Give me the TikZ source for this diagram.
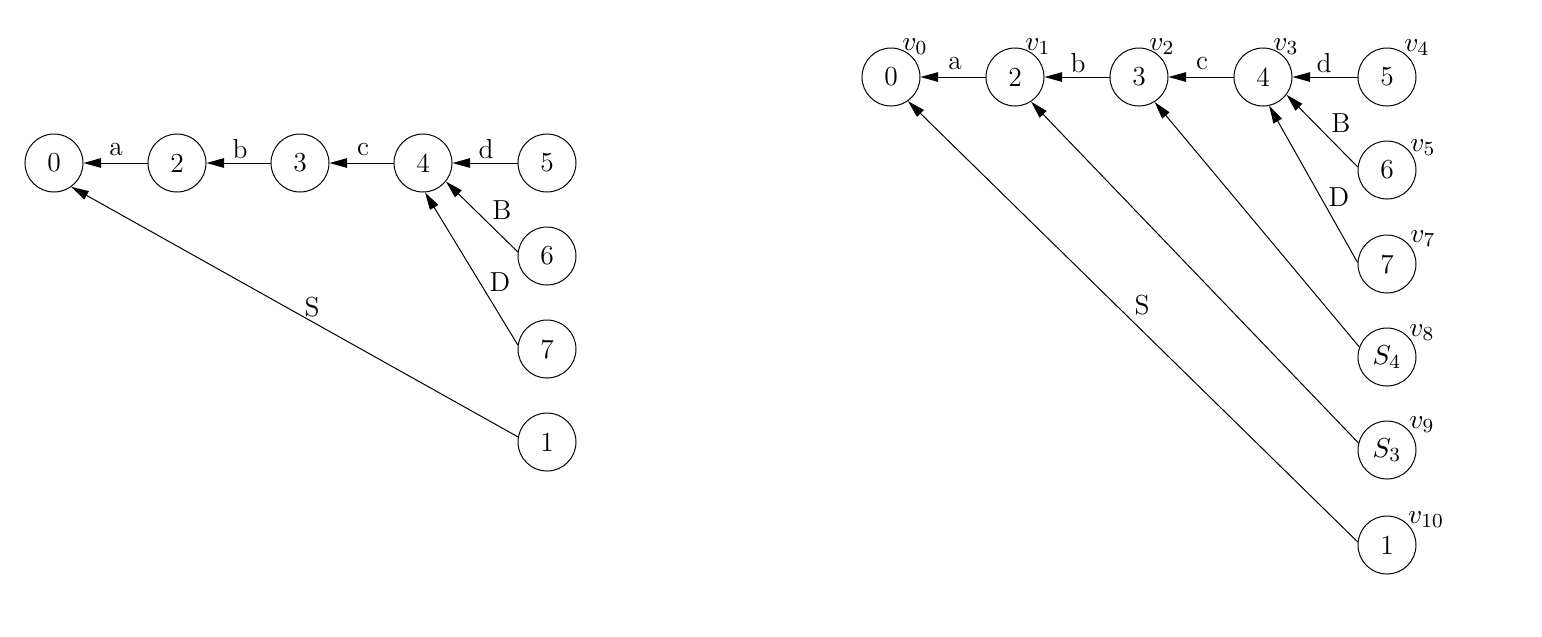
\documentclass[tikz,border=0pt]{standalone}
\usetikzlibrary{arrows.meta}
\begin{document}
\begin{tikzpicture}[x=0.4pt,y=-0.4pt,
  st/.style={circle,draw,line width=0.4pt,minimum size=23.2pt,inner sep=0pt,font=\fontsize{11}{13}\selectfont},
  lbl/.style={inner sep=0pt,font=\fontsize{11}{13}\selectfont},
  tr/.style={line width=0.4pt,-{Triangle[length=7pt,width=3.8pt]}}]
\useasboundingbox (0,0) rectangle (1542,636);
% left graph
\node[st] (L0) at (54,163) {0};
\node[st] (L2) at (177,163) {2};
\node[st] (L3) at (300,163) {3};
\node[st] (L4) at (423,163) {4};
\node[st] (L5) at (547,163) {5};
\node[st] (L6) at (547,256) {6};
\node[st] (L7) at (547,349) {7};
\node[st] (L1) at (547,442) {1};
\draw[tr] (L2.west) -- (L0.east);
\draw[tr] (L3.west) -- (L2.east);
\draw[tr] (L4.west) -- (L3.east);
\draw[tr] (L5.west) -- (L4.east);
\draw[tr] (L6.172) -- (L4.-39);
\draw[tr] (L7.172) -- (L4.-86);
\draw[tr] (L1.170) -- (L0.-54);
\node[lbl] (la) at (116,149) {a};
\node[lbl] (lb) at (240,149) {b};
\node[lbl] (lc) at (363,149) {c};
\node[lbl] (ld) at (486,149) {d};
\node[lbl] (lB) at (502,210) {B};
\node[lbl] (lD) at (500,282) {D};
\node[lbl] (lS) at (312,307) {S};
% right graph
\node[st] (R0) at (891,77) {0};
\node[st] (R2) at (1015,77) {2};
\node[st] (R3) at (1139,77) {3};
\node[st] (R4) at (1263,77) {4};
\node[st] (R5) at (1387,77) {5};
\node[st] (R6) at (1387,170) {6};
\node[st] (R7) at (1387,264) {7};
\node[st] (R8) at (1387,357) {$S_4$};
\node[st] (R9) at (1387,450) {$S_3$};
\node[st] (R1) at (1387,545) {1};
\draw[tr] (R2.west) -- (R0.east);
\draw[tr] (R3.west) -- (R2.east);
\draw[tr] (R4.west) -- (R3.east);
\draw[tr] (R5.west) -- (R4.east);
\draw[tr] (R6.174) -- (R4.-37);
\draw[tr] (R7.177) -- (R4.-78);
\draw[tr] (R8.160) -- (R3.-58);
\draw[tr] (R9.166) -- (R2.-57);
\draw[tr] (R1.174) -- (R0.-55);
\node[lbl] (ra) at (955,63) {a};
\node[lbl] (rb) at (1078,63) {b};
\node[lbl] (rc) at (1202,63) {c};
\node[lbl] (rd) at (1324,63) {d};
\node[lbl] (rB) at (1341,123) {B};
\node[lbl] (rD) at (1339,197) {D};
\node[lbl] (rS) at (1142,305) {S};
\node[lbl] (v0) at (915,47) {$v_0$};
\node[lbl] (v1) at (1038,47) {$v_1$};
\node[lbl] (v2) at (1162,47) {$v_2$};
\node[lbl] (v3) at (1286,47) {$v_3$};
\node[lbl] (v4) at (1417,48) {$v_4$};
\node[lbl] (v5) at (1423,148) {$v_5$};
\node[lbl] (v7) at (1423,239) {$v_7$};
\node[lbl] (v8) at (1422,333) {$v_8$};
\node[lbl] (v9) at (1422,425) {$v_9$};
\node[lbl] (v10) at (1426,520) {$v_{10}$};
\end{tikzpicture}
\end{document}
